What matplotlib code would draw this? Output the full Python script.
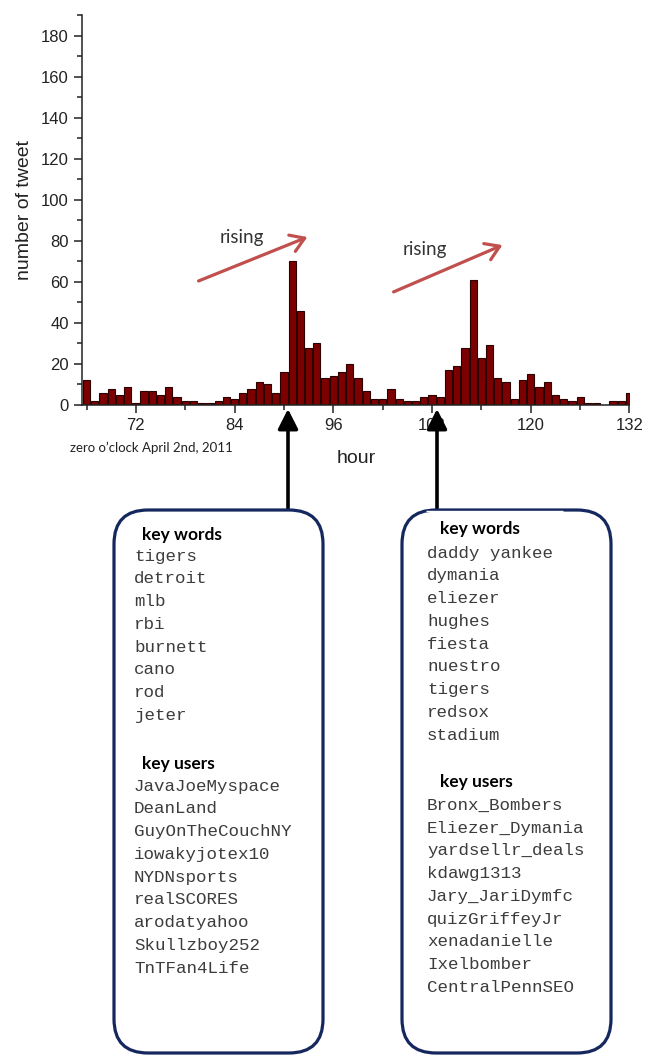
import matplotlib
matplotlib.use("Agg")
import matplotlib.pyplot as plt
from matplotlib.patches import FancyBboxPatch, FancyArrowPatch
from matplotlib.ticker import MultipleLocator

# ---------------- data ----------------
hours = list(range(66, 133))
tweets = [12, 2, 6, 8, 5, 9, 1, 7, 7, 5, 9, 4, 2, 2, 1, 1, 2, 4, 3, 6, 8, 11, 10, 6, 16,
          70, 46, 28, 30, 13, 14, 16, 20, 13, 7, 3, 3, 8, 3, 2, 2, 4, 5, 4, 17, 19, 28, 61,
          23, 29, 13, 11, 3, 12, 15, 9, 11, 5, 3, 2, 4, 1, 1, 0, 2, 2, 6]
x_major_ticks = [72, 84, 96, 108, 120, 132]
y_major_ticks = [0, 20, 40, 60, 80, 100, 120, 140, 160, 180]

words_1 = ["tigers", "detroit", "mlb", "rbi", "burnett", "cano", "rod", "jeter"]
users_1 = ["JavaJoeMyspace", "DeanLand", "GuyOnTheCouchNY", "iowakyjotex10",
           "NYDNsports", "realSCORES", "arodatyahoo", "Skullzboy252", "TnTFan4Life"]
words_2 = ["daddy yankee", "dymania", "eliezer", "hughes", "fiesta", "nuestro",
           "tigers", "redsox", "stadium"]
users_2 = ["Bronx_Bombers", "Eliezer_Dymania", "yardsellr_deals", "kdawg1313",
           "Jary_JariDymfc", "quizGriffeyJr", "xenadanielle", "Ixelbomber", "CentralPennSEO"]

# ---------------- figure ----------------
W, H = 656, 1057
fig = plt.figure(figsize=(W / 100, H / 100), dpi=100)
fig.patch.set_facecolor("white")

sans = ["Liberation Sans", "DejaVu Sans"]
cal = ["Lato", "DejaVu Sans"]
mono = ["Liberation Mono", "DejaVu Sans Mono"]

ax_l, ax_r, ax_t, ax_b = 82, 629.5, 15, 405
ax = fig.add_axes([ax_l / W, 1 - ax_b / H, (ax_r - ax_l) / W, (ax_b - ax_t) / H])
ax.bar(hours, tweets, width=0.88, color="#7c0000", edgecolor="#2a0000", linewidth=0.8)
ax.set_xlim(65.45, 132)
ax.set_ylim(0, 190)
for s in ["top", "right"]:
    ax.spines[s].set_visible(False)
for s in ["left", "bottom"]:
    ax.spines[s].set_linewidth(1.1)
    ax.spines[s].set_color("#222222")
ax.set_xticks(x_major_ticks)
ax.set_yticks(y_major_ticks)
ax.xaxis.set_minor_locator(MultipleLocator(12, offset=6))
ax.yaxis.set_minor_locator(MultipleLocator(20, offset=10))
ax.tick_params(which="major", direction="out", length=5.5, width=1.1, color="#222222",
               labelsize=12, pad=4, labelcolor="#222222")
ax.tick_params(which="minor", direction="out", length=3.5, width=1.1, color="#222222")
for lab in ax.get_xticklabels() + ax.get_yticklabels():
    lab.set_family(sans)
ax.set_ylabel("number of tweet", fontsize=14, family=sans, color="#222222", labelpad=6)
ax.set_xlabel("hour", fontsize=14, family=sans, color="#222222", labelpad=12)

# ---------------- overlay in pixel units ----------------
ov = fig.add_axes([0, 0, 1, 1], zorder=5)
ov.set_xlim(0, W)
ov.set_ylim(H, 0)
ov.axis("off")
ov.patch.set_alpha(0)

ov.text(70, 448, "zero o\u2019clock April 2nd, 2011", fontsize=9.5, family=cal,
        color="#222222", va="center", ha="left")

red = "#c0504d"
for (x0, y0, x1, y1) in [(196, 282, 310, 236), (391, 293, 505, 244)]:
    ov.add_patch(FancyArrowPatch((x0, y0), (x1, y1),
                                 arrowstyle="->,head_length=0.7,head_width=0.45",
                                 mutation_scale=14, color=red, lw=2.3,
                                 capstyle="round", joinstyle="round"))
ov.text(242, 238, "rising", fontsize=13.5, family=cal, color="#333333",
        ha="center", va="center")
ov.text(425, 250, "rising", fontsize=13.5, family=cal, color="#333333",
        ha="center", va="center")

# black arrows
for xa in [288, 437]:
    ov.add_patch(FancyArrowPatch((xa, 512), (xa, 409),
                                 arrowstyle="-|>,head_length=0.75,head_width=0.38",
                                 mutation_scale=16, color="black", lw=2.6,
                                 shrinkA=0, shrinkB=0))

# boxes
navy = "#14275e"
for (bx0, bx1) in [(114, 323), (402, 611)]:
    ov.add_patch(FancyBboxPatch((bx0, 510), bx1 - bx0, 543,
                                boxstyle="round,pad=0,rounding_size=34",
                                fc="white", ec=navy, lw=2.3, zorder=3))
ov.plot([426, 563], [510.6, 510.6], color="white", lw=1.0, zorder=4,
        solid_capstyle="butt")

def block(x_head, y_head, x_items, y_first, items):
    ov.text(x_head, y_head, "key words" if items in (words_1, words_2) else "key users",
            fontsize=12.5, family=cal, weight="bold", color="black",
            ha="left", va="baseline", zorder=6)
    for i, it in enumerate(items):
        ov.text(x_items, y_first + i * 22.75, it, fontsize=12.6, family=mono,
                color="#3c3c3c", ha="left", va="baseline", zorder=6)

block(142, 540, 134, 560.7, words_1)
block(142, 769, 134, 790.7, users_1)
block(440, 534, 427, 557.7, words_2)
block(440, 786.5, 427, 810, users_2)

fig.savefig("out.png", dpi=100)
